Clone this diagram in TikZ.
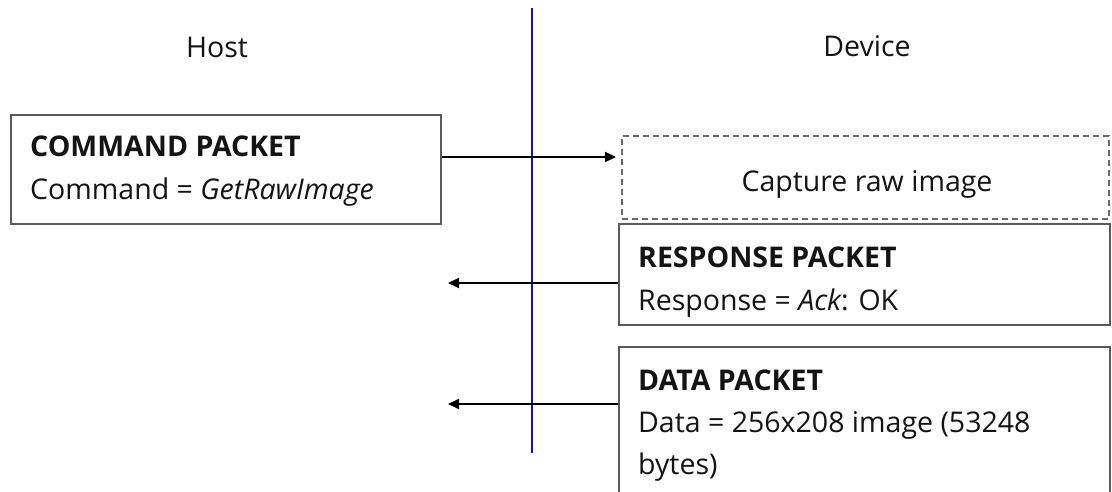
\documentclass[tikz,border=0pt]{standalone}
\usepackage{fontspec}
\setmainfont{Open Sans}
\usetikzlibrary{arrows.meta}
\definecolor{boxgray}{RGB}{90,90,90}
\definecolor{dashgray}{RGB}{105,105,105}
\definecolor{txt}{RGB}{20,20,20}
\definecolor{lineblue}{RGB}{15,15,200}
\begin{document}
\begin{tikzpicture}[x=1pt,y=-1pt,
  box/.style={draw=boxgray, line width=2pt, inner sep=0pt, anchor=north west},
  dbox/.style={draw=dashgray, line width=1.6pt, dash pattern=on 6pt off 4pt, inner sep=0pt, anchor=north west},
  lbl/.style={anchor=base west, inner sep=0pt, text=txt, font=\fontsize{28.5}{34}\selectfont},
  clbl/.style={anchor=base, inner sep=0pt, text=txt, font=\fontsize{28.5}{34}\selectfont},
  arr/.style={draw=black, line width=2pt, -{Triangle[length=11pt,width=10pt]}}]
\clip (0,0) rectangle (1112,492);
\fill[white] (0,0) rectangle (1112,492);
% lifeline
\coordinate (ltop) at (532,8);
\coordinate (lbot) at (532,453);
\draw[lineblue, line width=2.8pt] (ltop) -- (lbot);
% headers
\node[clbl] (host) at (217,58) {Host};
\node[clbl] (device) at (867,57) {Device};
% boxes
\node[box, minimum width=430pt, minimum height=109pt] (cmd) at (10,114) {};
\node[dbox, minimum width=487pt, minimum height=83pt] (cap) at (621,135) {};
\node[box, minimum width=491pt, minimum height=101pt] (resp) at (618,223) {};
\node[box, minimum width=491pt, minimum height=170pt] (data) at (618,346) {};
% texts
\node[lbl] (t1) at (30,157) {\bfseries COMMAND PACKET};
\node[lbl] (t2) at (30,200) {Command = {\itshape GetRawImage}};
\node[clbl] (t3) at (867,192) {Capture raw image};
\node[lbl] (t4) at (638,267) {\bfseries RESPONSE PACKET};
\node[lbl] (t5) at (638,310) {Response = {\itshape Ack}: OK};
\node[lbl] (t6) at (638,390) {\bfseries DATA PACKET};
\node[lbl] (t7) at (638,432) {Data = 256x208 image (53248};
\node[lbl] (t8) at (638,474) {bytes)};
% arrows
\coordinate (r1) at (448,283);
\coordinate (r2) at (448,404);
\draw[arr] (cmd.east |- 0,157) -- ([xshift=-5pt]cap.west |- 0,157);
\draw[arr] (resp.west |- r1) -- (r1);
\draw[arr] (data.west |- r2) -- (r2);
\end{tikzpicture}
\end{document}
